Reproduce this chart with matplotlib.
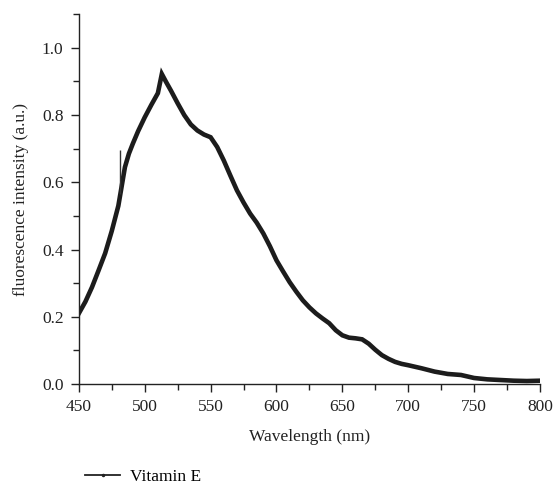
import numpy as np
import matplotlib
matplotlib.use('Agg')
from matplotlib import pyplot as plt
from matplotlib.lines import Line2D
from matplotlib.ticker import MultipleLocator, FormatStrFormatter

plt.rcParams['font.family'] = ['Liberation Serif', 'DejaVu Serif']

# emission spectrum (nm, a.u.)
wavelength = [450, 455, 460, 465, 470, 475, 480, 485, 488, 491, 495, 500, 505, 510, 513,
              516, 520, 525, 530, 535, 540, 545, 550, 555, 560, 565, 570, 575, 580,
              585, 590, 595, 600, 605, 610, 615, 620, 625, 630, 635, 640, 645, 650,
              655, 660, 665, 670, 675, 680, 685, 690, 695, 700, 710, 720, 730, 740,
              750, 760, 770, 780, 790, 800]
intensity = [0.21, 0.245, 0.288, 0.338, 0.389, 0.455, 0.53, 0.645, 0.685, 0.715, 0.752,
             0.793, 0.83, 0.865, 0.922, 0.90, 0.872, 0.835, 0.80, 0.772, 0.754, 0.742,
             0.734, 0.705, 0.665, 0.62, 0.576, 0.54, 0.507, 0.48, 0.448, 0.41, 0.368,
             0.335, 0.303, 0.275, 0.249, 0.228, 0.21, 0.195, 0.181, 0.16, 0.145, 0.138,
             0.136, 0.133, 0.12, 0.102, 0.086, 0.075, 0.066, 0.06, 0.056, 0.047, 0.037,
             0.03, 0.027, 0.018, 0.014, 0.012, 0.01, 0.009, 0.01]

# single spike in the raw data
spike_x = 481.5
spike_top = 0.695

fs = 12.5
ink = '#222222'

fig = plt.figure(figsize=(5.55, 4.88), dpi=100)
ax = fig.add_axes([0.142, 0.213, 0.831, 0.758])

ax.plot(wavelength, intensity, color='#1c1c1c', lw=3.3, solid_joinstyle='miter')
ax.vlines(spike_x, np.interp(spike_x, wavelength, intensity), spike_top,
          color='#333333', lw=1.0)

ax.set_xlim(450, 800)
ax.set_ylim(0, 1.1)
ax.xaxis.set_major_locator(MultipleLocator(50))
ax.xaxis.set_minor_locator(MultipleLocator(25))
ax.yaxis.set_major_locator(MultipleLocator(0.2))
ax.yaxis.set_minor_locator(MultipleLocator(0.1))
ax.yaxis.set_major_formatter(FormatStrFormatter('%.1f'))

for s in ['top', 'right']:
    ax.spines[s].set_visible(False)
for s in ['left', 'bottom']:
    ax.spines[s].set_linewidth(1.0)
    ax.spines[s].set_color(ink)

ax.tick_params(which='major', direction='out', length=6, width=1.0, labelsize=fs,
               colors=ink, pad=5)
ax.tick_params(which='minor', direction='out', length=4, width=1.0, colors=ink)

ax.set_xlabel('Wavelength (nm)', fontsize=fs, color=ink, labelpad=10)
ax.set_ylabel('fluorescence intensity (a.u.)', fontsize=fs, color=ink, labelpad=9)

handle = Line2D([], [], color=ink, lw=1.3, marker='.', markersize=3)
fig.legend([handle], ['Vitamin E'], loc='center left', bbox_to_anchor=(0.135, 0.023),
           frameon=False, fontsize=fs, handlelength=2.0, handletextpad=0.6,
           borderpad=0.1)

fig.savefig('out.png', dpi=100)
